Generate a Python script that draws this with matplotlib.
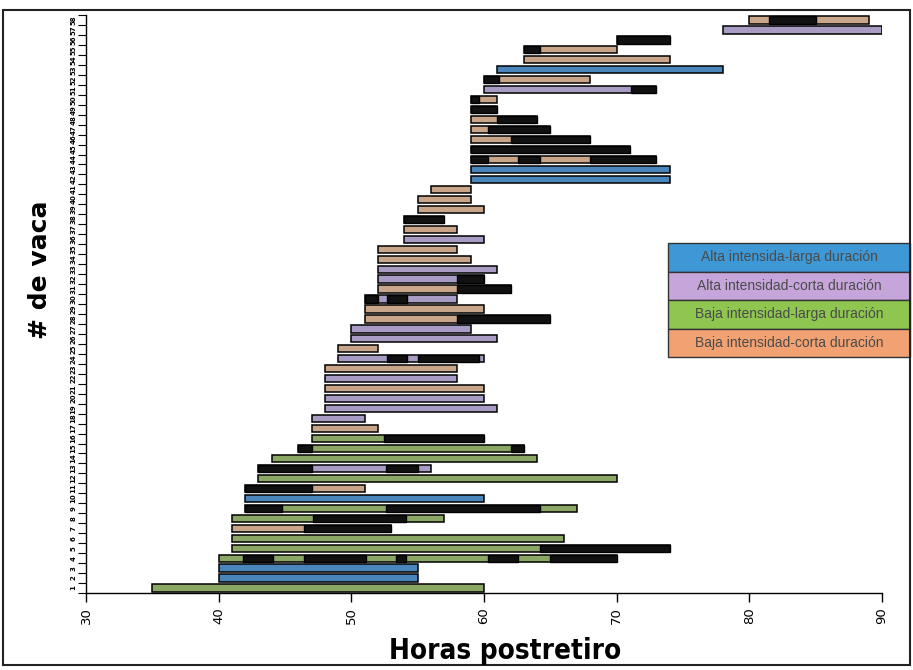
import matplotlib
matplotlib.use("Agg")
import matplotlib.pyplot as plt
from matplotlib.patches import Rectangle
import numpy as np

# ---------------- data ----------------
cows = list(range(1, 59))
start_h = [35, 40, 40, 40, 41, 41, 41, 41, 42, 42,
           42, 43, 43, 44, 46, 47, 47, 47, 48, 48,
           48, 48, 48, 49, 49, 50, 50, 51, 51, 51,
           52, 52, 52, 52, 52, 54, 54, 54, 55, 55,
           56, 59, 59, 59, 59, 59, 59, 59, 59, 59,
           60, 60, 61, 63, 63, 70, 78, 80]
end_h = [60, 55, 55, 70, 74, 66, 53, 57, 67, 60,
         51, 70, 56, 64, 63, 60, 52, 51, 61, 60,
         60, 58, 58, 60, 52, 61, 59, 65, 60, 58,
         62, 60, 61, 59, 58, 60, 58, 57, 60, 59,
         59, 74, 74, 73, 71, 68, 65, 64, 61, 61,
         73, 68, 78, 74, 70, 74, 90, 89]
# 0 = Alta-larga, 1 = Alta-corta, 2 = Baja-larga, 3 = Baja-corta
group = [2, 0, 0, 2, 2, 2, 3, 2, 2, 0,
         3, 2, 1, 2, 2, 2, 3, 1, 1, 1,
         3, 1, 3, 1, 3, 1, 1, 3, 3, 1,
         3, 1, 1, 3, 3, 1, 3, 3, 3, 3,
         3, 0, 0, 3, 3, 3, 3, 3, 1, 3,
         1, 3, 0, 3, 3, 3, 1, 3]
group_names = ["Alta intensida-larga duración",
               "Alta intensidad-corta duración",
               "Baja intensidad-larga duración",
               "Baja intensidad-corta duración"]

# dark (black) stretches inside bars
dark_rows = [4, 4, 4, 4, 4, 5, 7, 8, 9, 9, 11, 13, 13, 15, 15, 16,
             24, 24, 28, 30, 30, 31, 32, 38, 44, 44, 44, 45, 46, 47,
             48, 49, 50, 51, 52, 55, 56, 58]
dark_start = [41.8, 46.4, 53.4, 60.3, 65.0, 64.2, 46.4, 47.1, 42.0, 52.6,
              42.0, 43.0, 52.6, 46.0, 62.0, 52.5,
              52.7, 55.0, 58.0, 51.0, 52.7, 58.0, 58.0, 54.0, 59.0, 62.6,
              68.0, 59.0, 62.0, 60.3,
              61.0, 59.0, 59.0, 71.1, 60.0, 63.0, 70.0, 81.5]
dark_end = [44.1, 51.1, 54.1, 62.6, 70.0, 74.0, 53.0, 54.1, 44.8, 64.2,
            47.0, 47.0, 55.0, 47.0, 63.0, 60.0,
            54.2, 59.6, 65.0, 52.0, 54.2, 62.0, 60.0, 57.0, 60.3, 64.2,
            73.0, 71.0, 68.0, 65.0,
            64.0, 61.0, 59.6, 73.0, 61.1, 64.2, 74.0, 85.0]

x_ticks = [30, 40, 50, 60, 70, 80, 90]

# ---------------- styles ----------------
bar_colors = ["#4a86bb", "#a99cc4", "#8aa765", "#c9a58a"]
legend_colors = ["#3f98d6", "#c6a6da", "#8ec650", "#f2a272"]

W, H = 913, 670
fig = plt.figure(figsize=(W / 100, H / 100), dpi=100)
fig.patch.set_facecolor("white")
ax = fig.add_axes([86 / W, (H - 593) / H, (882 - 86) / W, (593 - 15) / H])

cols = [bar_colors[g] for g in group]
widths = np.array(end_h) - np.array(start_h)
ax.barh(cows, widths, left=start_h, height=0.72, color=cols,
        edgecolor="black", linewidth=1.1, zorder=2)
dw = np.array(dark_end) - np.array(dark_start)
ax.barh(dark_rows, dw, left=dark_start, height=0.72, color="#111111",
        edgecolor="black", linewidth=1.0, zorder=3)

ax.set_xlim(30, 90)
ax.set_ylim(0.5, 58.5)
for s in ["top", "right"]:
    ax.spines[s].set_visible(False)
ax.spines["left"].set_linewidth(1.0)
ax.spines["bottom"].set_linewidth(1.0)

ax.set_xticks(x_ticks)
ax.set_xticklabels([str(v) for v in x_ticks], rotation=90, fontsize=9.5,
                   family="DejaVu Sans")
ax.tick_params(axis="x", length=6.5, width=1, pad=4)

# category-style y axis: ticks between rows, labels at rows
ax.set_yticks(np.arange(0.5, 59, 1))
ax.set_yticklabels([])
ax.tick_params(axis="y", which="major", length=6, width=0.8)
ax.set_yticks(cows, minor=True)
ax.set_yticklabels([str(c) for c in cows], minor=True, rotation=90,
                   fontsize=5, fontweight="bold", va="center")
ax.tick_params(axis="y", which="minor", length=0, pad=7)

# axis titles
fig.text(505 / W, 1 - 651 / H, "Horas postretiro", ha="center", va="center",
         fontsize=20, fontweight="bold",
         family=["Liberation Sans Narrow", "DejaVu Sans"], fontstretch="condensed")
fig.text(40 / W, 1 - 270 / H, "# de vaca", ha="center", va="center",
         rotation=90, fontsize=18, fontweight="bold", family="DejaVu Sans")

# legend built as stacked coloured boxes
lx0, lx1 = 668, 910
ly0 = 243
rh = 28.5
for i, (name, c) in enumerate(zip(group_names, legend_colors)):
    y_top = ly0 + i * rh
    fig.patches.append(Rectangle((lx0 / W, 1 - (y_top + rh) / H), (lx1 - lx0) / W,
                                 rh / H, transform=fig.transFigure,
                                 facecolor=c, edgecolor="#333333", linewidth=1.0))
    fig.text((lx0 + lx1) / 2 / W, 1 - (y_top + rh / 2) / H, name,
             ha="center", va="center", fontsize=10, color="#4a4a4a",
             family=["Liberation Sans", "DejaVu Sans"])

# outer frame
fig.patches.append(Rectangle((3 / W, 1 - 665 / H), (910 - 3) / W, (665 - 10) / H,
                             transform=fig.transFigure, fill=False,
                             edgecolor="#222222", linewidth=1.5))

fig.savefig("out.png", dpi=100)
